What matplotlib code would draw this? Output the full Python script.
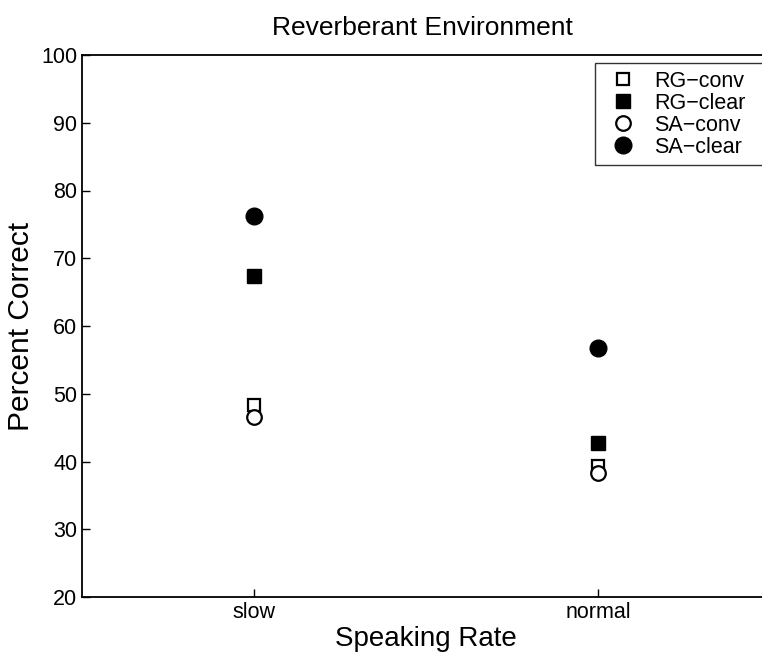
import numpy as np
import matplotlib
matplotlib.use("Agg")
import matplotlib.pyplot as plt

plt.rcParams['font.family'] = ['Liberation Sans', 'DejaVu Sans']

# Data
rates = ["slow", "normal"]
rg_conv = [48.3, 39.3]
rg_clear = [67.4, 42.8]
sa_conv = [46.6, 38.3]
sa_clear = [76.3, 56.8]

x = np.arange(1, len(rates) + 1)

fig = plt.figure(figsize=(7.62, 6.57), dpi=100)
# axes runs off the right edge of the picture, like the scan
ax = fig.add_axes([82 / 762, 60 / 657, 688 / 762, 542 / 657])

ax.plot(x, rg_conv, linestyle="none", marker="s", markersize=9,
        markerfacecolor="white", markeredgecolor="black", markeredgewidth=1.6,
        label="RG\u2212conv")
ax.plot(x, rg_clear, linestyle="none", marker="s", markersize=9.5,
        color="black", label="RG\u2212clear")
ax.plot(x, sa_conv, linestyle="none", marker="o", markersize=10.5,
        markerfacecolor="white", markeredgecolor="black", markeredgewidth=1.6,
        label="SA\u2212conv")
ax.plot(x, sa_clear, linestyle="none", marker="o", markersize=12,
        color="black", label="SA\u2212clear")

ax.set_xlim(0.5, 2.5)
ax.set_ylim(20, 100)
ax.set_xticks(x)
ax.set_xticklabels(rates)
ax.set_yticks(np.arange(20, 101, 10))
ax.tick_params(direction="in", length=6, width=1, labelsize=15.5, top=False, right=False)
for s in ax.spines.values():
    s.set_linewidth(1.3)
ax.spines["right"].set_visible(False)

ax.text(422, 657 - 35, "Reverberant Environment", fontsize=19,
        ha="center", va="baseline", transform=None)
ax.set_xlabel("Speaking Rate", fontsize=20, labelpad=2)
ax.set_ylabel("Percent Correct", fontsize=21.5, labelpad=4)

# legend box is cut off by the right edge in the scan
leg = ax.legend(loc="upper left", mode="expand",
                bbox_to_anchor=(595 / 762, 1 - 167 / 657, 180 / 762, 104 / 657),
                bbox_transform=fig.transFigure, fontsize=15.5,
                frameon=True, fancybox=False, edgecolor="black",
                handletextpad=0.5, borderpad=0.35, labelspacing=0.05,
                handlelength=1.9, borderaxespad=0)
leg.get_frame().set_linewidth(1.0)

fig.savefig("out.png", dpi=100)
